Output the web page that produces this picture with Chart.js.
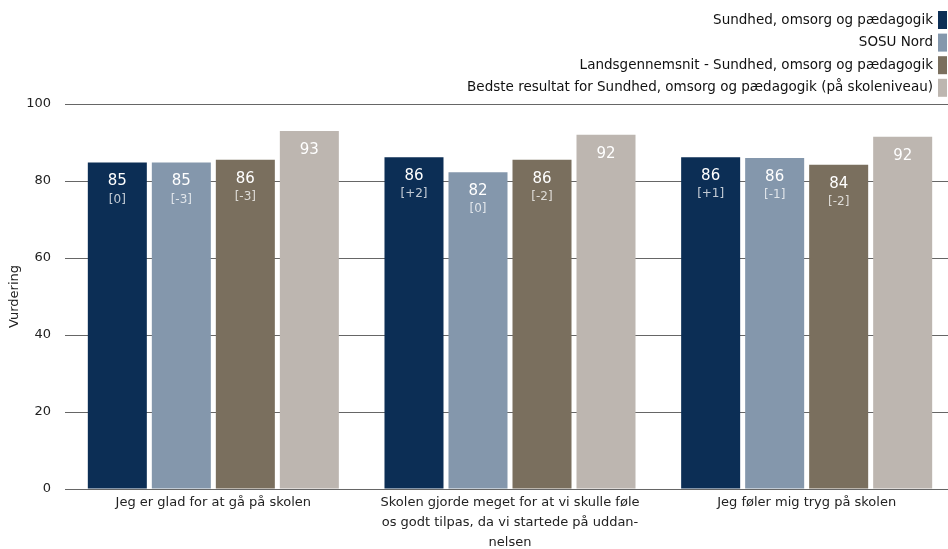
<!DOCTYPE html>
<html lang="da">
  <head>
    <meta charset="UTF-8" />
    <title>Trivsel - Sundhed, omsorg og pædagogik</title>
    <script src="https://cdn.jsdelivr.net/npm/chart.js"></script>
    <style>
      html, body {
        margin: 0;
        padding: 0;
        background: white;
        overflow: hidden;
      }
      #chartContainer {
        width: 955px;
        height: 549px;
        position: relative;
      }
    </style>
  </head>
  <body>
    <div id="chartContainer">
      <canvas id="surveyChart"></canvas>
    </div>

    <script>
      const FONT = "'DejaVu Sans', Verdana, sans-serif"

      const categories = [
        'Jeg er glad for at gå på skolen',
        ['Skolen gjorde meget for at vi skulle føle', 'os godt tilpas, da vi startede på uddan-', 'nelsen'],
        'Jeg føler mig tryg på skolen',
      ]
      const seriesNames = [
        'Sundhed, omsorg og pædagogik',
        'SOSU Nord',
        'Landsgennemsnit - Sundhed, omsorg og pædagogik',
        'Bedste resultat for Sundhed, omsorg og pædagogik (på skoleniveau)',
      ]
      const seriesColors = ['#0c2e55', '#8497ac', '#7a6f5e', '#bdb6b0']

      const sundhed = [84.8, 86.2, 86.2]
      const sosuNord = [84.8, 82.3, 86.0]
      const landsgennemsnit = [85.5, 85.5, 84.2]
      const bedste = [93.0, 92.0, 91.5]

      const sundhedChange = ['[0]', '[+2]', '[+1]']
      const sosuNordChange = ['[-3]', '[0]', '[-1]']
      const landsChange = ['[-3]', '[-2]', '[-2]']
      const bedsteChange = [null, null, null]

      const yTicks = [0, 20, 40, 60, 80, 100]

      const values = [sundhed, sosuNord, landsgennemsnit, bedste]
      const changes = [sundhedChange, sosuNordChange, landsChange, bedsteChange]

      // legend drawn top right, text first, colour box after it
      const rightLegend = {
        id: 'rightLegend',
        afterDraw(chart) {
          const c = chart.ctx
          c.save()
          c.font = '13.5px ' + FONT
          c.textAlign = 'right'
          c.textBaseline = 'middle'
          chart.data.datasets.forEach((ds, i) => {
            const y = 20 + i * 22.6
            c.fillStyle = '#111'
            c.fillText(ds.label, 933, y)
            c.fillStyle = ds.backgroundColor
            c.fillRect(938, y - 9, 9, 18)
          })
          c.restore()
        },
      }

      // value and change labels inside the bars
      const barLabels = {
        id: 'barLabels',
        afterDatasetsDraw(chart) {
          const c = chart.ctx
          c.save()
          c.textAlign = 'center'
          c.textBaseline = 'middle'
          chart.data.datasets.forEach((ds, i) => {
            const meta = chart.getDatasetMeta(i)
            meta.data.forEach((bar, j) => {
              c.font = '15px ' + FONT
              c.fillStyle = '#ffffff'
              c.fillText(String(Math.round(ds.data[j])), bar.x, bar.y + 19)
              const ch = changes[i][j]
              if (ch) {
                c.font = '12px ' + FONT
                c.fillStyle = 'rgba(255,255,255,0.75)'
                c.fillText(ch, bar.x, bar.y + 37)
              }
            })
          })
          c.restore()
        },
      }

      const ctx = document.getElementById('surveyChart').getContext('2d')
      new Chart(ctx, {
        type: 'bar',
        data: {
          labels: categories,
          datasets: values.map((data, i) => ({
            label: seriesNames[i],
            data: data,
            backgroundColor: seriesColors[i],
            barPercentage: 0.922,
            categoryPercentage: 0.863,
          })),
        },
        options: {
          responsive: true,
          maintainAspectRatio: false,
          animation: false,
          layout: { padding: { top: 104, left: 0, right: 0, bottom: 0 } },
          plugins: {
            legend: { display: false },
            tooltip: { enabled: false },
          },
          scales: {
            x: {
              grid: { display: false, drawTicks: false },
              border: { display: false },
              ticks: {
                color: '#222',
                font: { family: FONT, size: 13, lineHeight: '20px' },
                padding: 4,
                maxRotation: 0,
                autoSkip: false,
              },
              afterFit(scale) {
                scale.height = 60
              },
            },
            y: {
              min: 0,
              max: 100,
              afterBuildTicks(scale) {
                scale.ticks = yTicks.map((v) => ({ value: v }))
              },
              grid: { color: '#666', lineWidth: 1, drawTicks: false },
              border: { display: false },
              ticks: {
                color: '#222',
                font: { family: FONT, size: 13 },
                padding: 14,
              },
              title: {
                display: true,
                text: 'Vurdering',
                color: '#222',
                font: { family: FONT, size: 13 },
                padding: { top: 7, bottom: 0 },
              },
              afterFit(scale) {
                scale.width = 65
              },
            },
          },
        },
        plugins: [rightLegend, barLabels],
      })
    </script>
  </body>
</html>
